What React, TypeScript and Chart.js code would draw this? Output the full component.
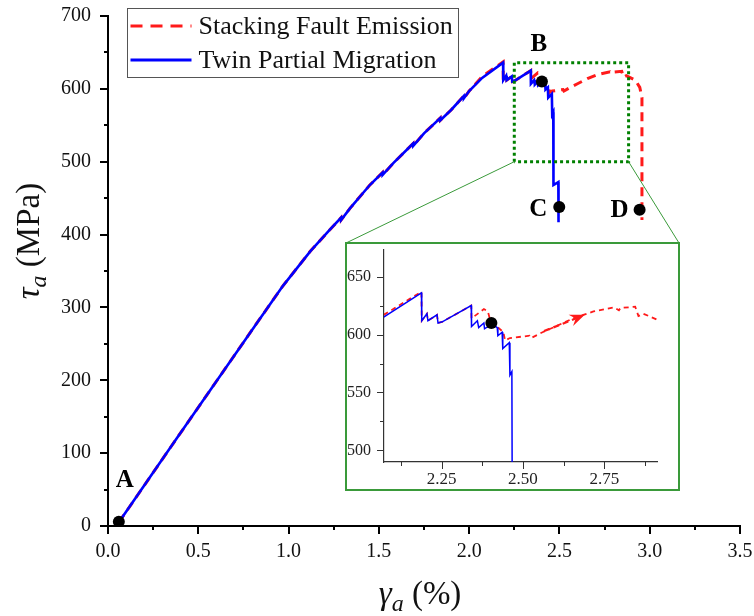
import React, { useEffect, useRef } from 'react';
import { Chart, registerables } from 'chart.js';

Chart.register(...registerables);

// ---------- data ----------
const tpmX = [0.06, 0.38, 0.82, 0.97, 1.12, 1.23, 1.29, 1.291, 1.34, 1.45, 1.52, 1.521, 1.58, 1.69, 1.691, 1.75, 1.84, 1.841, 1.9, 1.97, 1.971, 2.0, 2.072, 2.188, 2.189, 2.205, 2.208, 2.236, 2.239, 2.252, 2.341, 2.342, 2.36, 2.364, 2.38, 2.382, 2.406, 2.421, 2.423, 2.436, 2.438, 2.458, 2.46, 2.466, 2.467, 2.494, 2.495];
const tpmY = [5, 120, 277, 330, 377, 407, 423, 420, 436, 468, 485, 482, 498, 525, 522, 539, 560, 557, 571, 590, 587, 597, 615, 636, 612, 618, 612, 617, 610, 611, 625, 607, 612, 606, 610, 605, 609.5, 606, 599, 602, 588, 593, 565, 568, 468, 472, 417];

const sfeX = [0.06, 0.38, 0.82, 0.97, 1.12, 1.23, 1.29, 1.291, 1.34, 1.45, 1.52, 1.521, 1.58, 1.69, 1.691, 1.75, 1.84, 1.841, 1.9, 1.97, 1.971, 2.0, 2.072, 2.188, 2.189, 2.205, 2.208, 2.236, 2.239, 2.252, 2.341, 2.342, 2.38, 2.392, 2.4, 2.42, 2.44, 2.445, 2.46, 2.52, 2.525, 2.56, 2.6, 2.655, 2.717, 2.78, 2.795, 2.8, 2.845, 2.855, 2.87, 2.92, 2.945, 2.957, 2.957];
const sfeY = [5, 120, 277, 330, 377, 407, 423, 420, 436, 468, 485, 482, 498, 525, 522, 539, 560, 557, 571, 590, 587, 597, 617, 637, 612, 618, 612, 617, 610, 611, 625, 614, 622, 620, 612, 607, 602, 595, 597, 599, 597, 602, 607, 614, 620, 623.5, 621, 623, 624, 616, 618, 612, 602, 588, 420];

const markX = [0.06, 2.403, 2.499, 2.944];
const markY = [6, 610, 438, 434];
const markLabels = ['A', 'B', 'C', 'D'];

const zoomBoxX = [2.25, 2.25, 2.883, 2.883, 2.25];
const zoomBoxY = [500, 636, 636, 500, 500];

const mainXMajor = [0, 0.5, 1.0, 1.5, 2.0, 2.5, 3.0, 3.5];
const mainXMinor = [0.25, 0.75, 1.25, 1.75, 2.25, 2.75, 3.25];
const mainYMajor = [0, 100, 200, 300, 400, 500, 600, 700];
const mainYMinor = [50, 150, 250, 350, 450, 550, 650];

const insetXMajor = [2.25, 2.5, 2.75];
const insetXMinor = [2.125, 2.375, 2.625, 2.875];
const insetYMajor = [500, 550, 600, 650];
const insetYMinor = [525, 575, 625];

const arrowFrom = [2.565, 603];
const arrowTo = [2.69, 617];

const seriesLabels = ['Stacking Fault Emission', 'Twin Partial Migration'];

// ---------- styling / layout ----------
const FONT = '"Liberation Serif", "Times New Roman", serif';
const RED = '#ff1a1a';
const BLUE = '#0000ff';
const INSET = { left: 345, top: 242, w: 335, h: 249, border: 2 };
const labelOffsets = [[6, -41], [-3, -37], [-21, 3], [-20, 1]];

const pts = (xs: number[], ys: number[]) => xs.map((x, i) => ({ x, y: ys[i] }));

const axisTicksPlugin = {
  id: 'axisTicks',
  afterDraw(chart: any, _a: any, o: any) {
    const { ctx, chartArea, scales } = chart;
    ctx.save();
    ctx.strokeStyle = o.color;
    ctx.lineWidth = o.width;
    const xs = scales.x, ys = scales.y;
    const dx = (vals: number[], len: number) => vals.forEach((v) => {
      const p = Math.round(xs.getPixelForValue(v)) + (o.width % 2 ? 0.5 : 0);
      ctx.beginPath(); ctx.moveTo(p, chartArea.bottom); ctx.lineTo(p, chartArea.bottom + len); ctx.stroke();
    });
    const dy = (vals: number[], len: number) => vals.forEach((v) => {
      const p = Math.round(ys.getPixelForValue(v)) + (o.width % 2 ? 0.5 : 0);
      ctx.beginPath(); ctx.moveTo(chartArea.left, p); ctx.lineTo(chartArea.left - len, p); ctx.stroke();
    });
    dx(o.xMajor, o.majorLen); dx(o.xMinor, o.minorLen);
    dy(o.yMajor, o.majorLen); dy(o.yMinor, o.minorLen);
    ctx.restore();
  },
};

function drawMath(ctx: CanvasRenderingContext2D, sym: string, sub: string, rest: string, size: number) {
  const f1 = `italic ${size}px ${FONT}`;
  const f2 = `italic ${Math.round(size * 0.72)}px ${FONT}`;
  const f3 = `${size}px ${FONT}`;
  ctx.font = f1; const w1 = ctx.measureText(sym).width;
  ctx.font = f2; const w2 = ctx.measureText(sub).width;
  ctx.font = f3; const w3 = ctx.measureText(rest).width;
  let x = -(w1 + w2 + w3) / 2;
  ctx.textBaseline = 'alphabetic';
  ctx.textAlign = 'left';
  ctx.font = f1; ctx.fillText(sym, x, 0); x += w1;
  ctx.font = f2; ctx.fillText(sub, x, size * 0.2); x += w2;
  ctx.font = f3; ctx.fillText(rest, x, 0);
}

const mainDecorPlugin = {
  id: 'mainDecor',
  afterDraw(chart: any) {
    const { ctx, scales } = chart;
    const xs = scales.x, ys = scales.y;
    ctx.save();
    ctx.fillStyle = '#111';
    // axis titles
    ctx.save(); ctx.translate(420, 604); drawMath(ctx, 'γ', 'a', ' (%)', 33); ctx.restore();
    ctx.save(); ctx.translate(39, 241); ctx.rotate(-Math.PI / 2); drawMath(ctx, 'τ', 'a', ' (MPa)', 33); ctx.restore();

    // point labels
    ctx.font = `bold 25px ${FONT}`;
    ctx.fillStyle = '#000';
    ctx.textAlign = 'center';
    ctx.textBaseline = 'middle';
    markLabels.forEach((t, i) => {
      const px = xs.getPixelForValue(markX[i]);
      const py = ys.getPixelForValue(markY[i]);
      ctx.fillText(t, px + labelOffsets[i][0], py + labelOffsets[i][1]);
    });

    // connectors from zoom box to inset
    ctx.strokeStyle = '#3a9a3a';
    ctx.lineWidth = 1;
    const bl = [xs.getPixelForValue(zoomBoxX[0]), ys.getPixelForValue(zoomBoxY[0])];
    const br = [xs.getPixelForValue(zoomBoxX[3]), ys.getPixelForValue(zoomBoxY[3])];
    ctx.beginPath(); ctx.moveTo(bl[0], bl[1]); ctx.lineTo(INSET.left + 1, INSET.top + 1); ctx.stroke();
    ctx.beginPath(); ctx.moveTo(br[0], br[1]); ctx.lineTo(INSET.left + INSET.w - 1, INSET.top + 1); ctx.stroke();

    // legend
    const lx = 127.5, ly = 8.5, lw = 331, lh = 69;
    ctx.fillStyle = '#fff';
    ctx.fillRect(lx, ly, lw, lh);
    ctx.strokeStyle = '#555';
    ctx.lineWidth = 1;
    ctx.strokeRect(lx, ly, lw, lh);
    const rows = [26, 60];
    const colors = [RED, BLUE];
    const dashes = [[12, 8], []];
    rows.forEach((ry, i) => {
      ctx.strokeStyle = colors[i];
      ctx.lineWidth = 3;
      ctx.setLineDash(dashes[i]);
      ctx.beginPath(); ctx.moveTo(lx + 3, ry); ctx.lineTo(lx + 64, ry); ctx.stroke();
      ctx.setLineDash([]);
      ctx.fillStyle = '#111';
      ctx.font = `26px ${FONT}`;
      ctx.textAlign = 'left';
      ctx.textBaseline = 'middle';
      ctx.fillText(seriesLabels[i], lx + 71, ry + 1);
    });
    ctx.restore();
  },
};

const insetArrowPlugin = {
  id: 'insetArrow',
  afterDatasetsDraw(chart: any) {
    const { ctx, scales } = chart;
    const x0 = scales.x.getPixelForValue(arrowFrom[0]);
    const y0 = scales.y.getPixelForValue(arrowFrom[1]);
    const x1 = scales.x.getPixelForValue(arrowTo[0]);
    const y1 = scales.y.getPixelForValue(arrowTo[1]);
    const ang = Math.atan2(y1 - y0, x1 - x0);
    ctx.save();
    ctx.strokeStyle = RED;
    ctx.fillStyle = RED;
    ctx.lineWidth = 2.2;
    ctx.setLineDash([6, 4]);
    ctx.beginPath(); ctx.moveTo(x0, y0); ctx.lineTo(x1 - 8 * Math.cos(ang), y1 - 8 * Math.sin(ang)); ctx.stroke();
    ctx.setLineDash([]);
    const L = 15, W = 6;
    ctx.beginPath();
    ctx.moveTo(x1, y1);
    ctx.lineTo(x1 - L * Math.cos(ang) + W * Math.sin(ang), y1 - L * Math.sin(ang) - W * Math.cos(ang));
    ctx.lineTo(x1 - 0.65 * L * Math.cos(ang), y1 - 0.65 * L * Math.sin(ang));
    ctx.lineTo(x1 - L * Math.cos(ang) - W * Math.sin(ang), y1 - L * Math.sin(ang) + W * Math.cos(ang));
    ctx.closePath();
    ctx.fill();
    ctx.restore();
  },
};

function mainConfig(): any {
  return {
    type: 'scatter',
    data: {
      datasets: [
        { label: 'markers', data: pts(markX, markY), showLine: false, pointRadius: 6, pointBackgroundColor: '#000', pointBorderWidth: 0, order: 0 },
        { label: 'zoom', data: pts(zoomBoxX, zoomBoxY), showLine: true, borderColor: '#008000', borderWidth: 3, borderDash: [3, 3], pointRadius: 0, order: 1 },
        { label: seriesLabels[1], data: pts(tpmX, tpmY), showLine: true, borderColor: BLUE, borderWidth: 2.6, pointRadius: 0, tension: 0, order: 2 },
        { label: seriesLabels[0], data: pts(sfeX, sfeY), showLine: true, borderColor: RED, borderWidth: 3, borderDash: [9, 6], pointRadius: 0, tension: 0, order: 3 },
      ],
    },
    options: {
      animation: false,
      responsive: false,
      devicePixelRatio: 1,
      events: [],
      layout: { padding: { left: 0, top: 16, right: 14, bottom: 0 } },
      scales: {
        x: {
          type: 'linear', min: 0, max: 3.5,
          afterBuildTicks: (s: any) => { s.ticks = mainXMajor.map((v) => ({ value: v })); },
          afterFit: (s: any) => { s.height = 90; s.paddingLeft = 0; s.paddingRight = 0; },
          grid: { display: true, drawOnChartArea: false, drawTicks: true, tickLength: 8, tickColor: 'rgba(0,0,0,0)' },
          border: { display: true, color: '#000', width: 2 },
          ticks: { font: { family: FONT, size: 20 }, color: '#111', padding: 6, maxRotation: 0, autoSkip: false, callback: (v: any) => Number(v).toFixed(1) },
        },
        y: {
          type: 'linear', min: 0, max: 700,
          afterBuildTicks: (s: any) => { s.ticks = mainYMajor.map((v) => ({ value: v })); },
          afterFit: (s: any) => { s.width = 108; s.paddingTop = 0; s.paddingBottom = 0; },
          grid: { display: true, drawOnChartArea: false, drawTicks: true, tickLength: 8, tickColor: 'rgba(0,0,0,0)' },
          border: { display: true, color: '#000', width: 2 },
          ticks: { font: { family: FONT, size: 20 }, color: '#111', padding: 9, autoSkip: false, callback: (v: any) => String(v) },
        },
      },
      plugins: {
        legend: { display: false },
        tooltip: { enabled: false },
        axisTicks: { color: '#000', width: 2, majorLen: 8, minorLen: 4, xMajor: mainXMajor, xMinor: mainXMinor, yMajor: mainYMajor, yMinor: mainYMinor },
      },
    },
    plugins: [axisTicksPlugin, mainDecorPlugin],
  };
}

function insetConfig(): any {
  return {
    type: 'scatter',
    data: {
      datasets: [
        { label: 'B', data: pts([markX[1]], [markY[1]]), showLine: false, pointRadius: 6, pointBackgroundColor: '#000', pointBorderWidth: 0, order: 0 },
        { label: seriesLabels[1], data: pts(tpmX, tpmY), showLine: true, borderColor: BLUE, borderWidth: 1.5, pointRadius: 0, tension: 0, order: 2 },
        { label: seriesLabels[0], data: pts(sfeX, sfeY), showLine: true, borderColor: RED, borderWidth: 1.8, borderDash: [5, 4], pointRadius: 0, tension: 0, order: 3 },
      ],
    },
    options: {
      animation: false,
      responsive: false,
      devicePixelRatio: 1,
      events: [],
      layout: { padding: { left: 0, top: 0, right: 21, bottom: 0 } },
      scales: {
        x: {
          type: 'linear', min: 2.073, max: 2.912,
          afterBuildTicks: (s: any) => { s.ticks = insetXMajor.map((v) => ({ value: v })); },
          afterFit: (s: any) => { s.height = 27; s.paddingLeft = 0; s.paddingRight = 0; },
          grid: { display: true, drawOnChartArea: false, drawTicks: true, tickLength: 7, tickColor: 'rgba(0,0,0,0)' },
          border: { display: true, color: '#333', width: 1.2 },
          ticks: { font: { family: FONT, size: 17 }, color: '#222', padding: 0, maxRotation: 0, autoSkip: false, callback: (v: any) => Number(v).toFixed(2) },
        },
        y: {
          type: 'linear', min: 490, max: 673,
          afterBuildTicks: (s: any) => { s.ticks = insetYMajor.map((v) => ({ value: v })); },
          afterFit: (s: any) => { s.width = 37; s.paddingTop = 0; s.paddingBottom = 0; },
          grid: { display: true, drawOnChartArea: false, drawTicks: true, tickLength: 7, tickColor: 'rgba(0,0,0,0)' },
          border: { display: true, color: '#333', width: 1.2 },
          ticks: { font: { family: FONT, size: 16 }, color: '#222', padding: 6, autoSkip: false, callback: (v: any) => String(v) },
        },
      },
      plugins: {
        legend: { display: false },
        tooltip: { enabled: false },
        axisTicks: { color: '#333', width: 1, majorLen: 7, minorLen: 4, xMajor: insetXMajor, xMinor: insetXMinor, yMajor: insetYMajor, yMinor: insetYMinor },
      },
    },
    plugins: [axisTicksPlugin, insetArrowPlugin],
  };
}

export default function App() {
  const mainRef = useRef<HTMLCanvasElement>(null);
  const insetRef = useRef<HTMLCanvasElement>(null);
  useEffect(() => {
    const main = new Chart(mainRef.current as HTMLCanvasElement, mainConfig());
    const inset = new Chart(insetRef.current as HTMLCanvasElement, insetConfig());
    return () => { main.destroy(); inset.destroy(); };
  }, []);
  const innerW = INSET.w - 2 * INSET.border;
  const innerH = INSET.h - 2 * INSET.border;
  return (
    <div style={{ position: 'absolute', left: 0, top: 0, width: 754, height: 616, background: '#fff' }}>
      <canvas ref={mainRef} width={754} height={616} style={{ position: 'absolute', left: 0, top: 0, width: 754, height: 616 }} />
      <div style={{ position: 'absolute', left: INSET.left, top: INSET.top, width: INSET.w, height: INSET.h, border: `${INSET.border}px solid #3a9a3a`, boxSizing: 'border-box', background: '#fff' }}>
        <canvas ref={insetRef} width={innerW} height={innerH} style={{ display: 'block', width: innerW, height: innerH }} />
      </div>
    </div>
  );
}
